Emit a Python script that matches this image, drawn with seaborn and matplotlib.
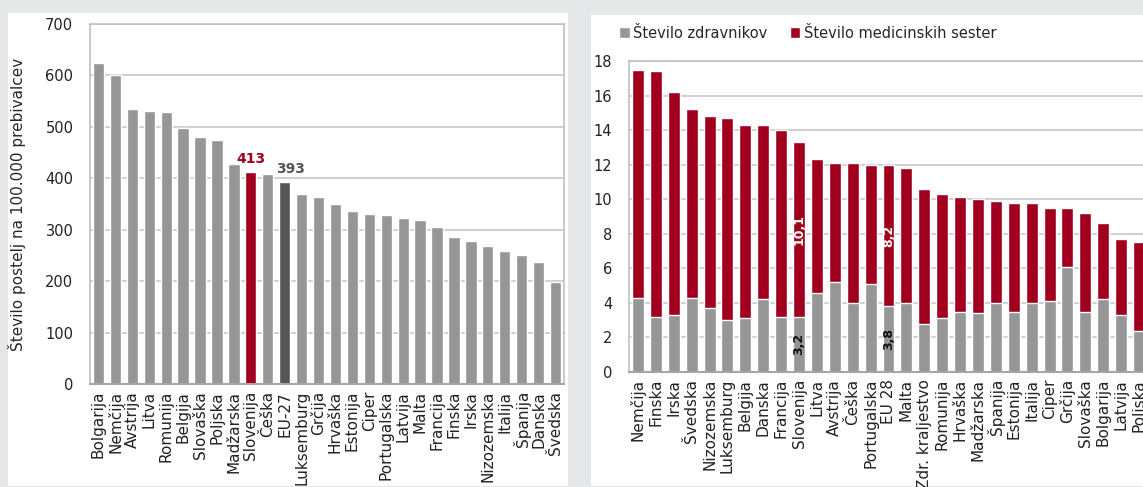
#!/usr/bin/env python3
"""
Bolnišnične postelje ter zdravniki in medicinske sestre v EU
"""

import numpy as np
import matplotlib
matplotlib.use('Agg')
import matplotlib.pyplot as plt
from matplotlib.patches import Rectangle, Patch
import seaborn as sns

# --- levi graf: postelje na 100.000 prebivalcev ---
beds_countries = ['Bolgarija', 'Nemčija', 'Avstrija', 'Litva', 'Romunija', 'Belgija',
                  'Slovaška', 'Poljska', 'Madžarska', 'Slovenija', 'Češka', 'EU-27',
                  'Luksemburg', 'Grčija', 'Hrvaška', 'Estonija', 'Ciper', 'Portugalska',
                  'Latvija', 'Malta', 'Francija', 'Finska', 'Irska', 'Nizozemska',
                  'Italija', 'Španija', 'Danska', 'Švedska']
beds_values = [624, 601, 534, 530, 528, 497, 481, 474, 427, 413, 408, 393,
               370, 363, 350, 337, 330, 329, 322, 319, 305, 285, 279, 269,
               259, 250, 237, 198]

# --- desni graf: zdravniki in medicinske sestre na 1000 prebivalcev ---
staff_countries = ['Nemčija', 'Finska', 'Irska', 'Švedska', 'Nizozemska', 'Luksemburg',
                   'Belgija', 'Danska', 'Francija', 'Slovenija', 'Litva', 'Avstrija',
                   'Češka', 'Portugalska', 'EU 28', 'Malta', 'Zdr. kraljestvo',
                   'Romunija', 'Hrvaška', 'Madžarska', 'Španija', 'Estonija', 'Italija',
                   'Ciper', 'Grčija', 'Slovaška', 'Bolgarija', 'Latvija', 'Poljska']
doctors = [4.3, 3.2, 3.3, 4.3, 3.7, 3.0, 3.1, 4.2, 3.2, 3.2, 4.6, 5.2, 4.0, 5.1,
           3.8, 4.0, 2.8, 3.1, 3.5, 3.4, 4.0, 3.5, 4.0, 4.1, 6.1, 3.5, 4.2, 3.3, 2.4]
nurses = [13.2, 14.2, 12.9, 10.9, 11.1, 11.7, 11.2, 10.1, 10.8, 10.1, 7.7, 6.9, 8.1,
          6.9, 8.2, 7.8, 7.8, 7.2, 6.6, 6.6, 5.9, 6.3, 5.8, 5.4, 3.4, 5.7, 4.4, 4.4, 5.1]

GREY = '#969696'
RED = '#a0001e'
DARK = '#555555'
BG = '#e6e7e8'
GRID = '#c8c8c8'
SPINE = '#c0c0c0'

sns.set_style('white')
plt.rcParams['font.family'] = ['DejaVu Sans']

W, H = 1143, 487
fig = plt.figure(figsize=(W / 100, H / 100), dpi=100, facecolor=BG)


def px_box(x0, y0, x1, y1):
    """pixel box (top-left origin) -> figure fraction rect"""
    return [x0 / W, 1 - y1 / H, (x1 - x0) / W, (y1 - y0) / H]


# white panels behind the charts
for x0, y0, x1, y1 in [(8, 13, 568, 486), (591, 15, 1160, 486)]:
    l, b, w, h = px_box(x0, y0, x1, y1)
    fig.patches.append(Rectangle((l, b), w, h, transform=fig.transFigure,
                                 facecolor='white', edgecolor='none', zorder=-10))


def style_axes(ax):
    ax.set_facecolor('white')
    for side in ['left', 'top', 'right']:
        ax.spines[side].set_color(SPINE)
        ax.spines[side].set_linewidth(1.2)
    ax.spines['bottom'].set_color('#a6a6a6')
    ax.spines['bottom'].set_linewidth(1.5)
    ax.yaxis.grid(True, color=GRID, linewidth=1.2)
    ax.set_axisbelow(True)
    ax.tick_params(axis='y', length=0, pad=12, labelsize=10.5, colors='#222222')
    ax.tick_params(axis='x', length=0, pad=5, labelsize=11, labelrotation=90,
                   colors='#222222')
    ax.set_xlabel('')


# ---- levi graf ----
ax1 = fig.add_axes(px_box(90, 24, 564, 384))
palette = {c: GREY for c in beds_countries}
palette['Slovenija'] = RED
palette['EU-27'] = DARK
sns.barplot(x=beds_countries, y=beds_values, hue=beds_countries, palette=palette,
            legend=False, width=0.67, saturation=1, ax=ax1)
ax1.set_ylim(0, 700)
ax1.set_yticks(np.arange(0, 701, 100))
ax1.set_xlim(-0.5, len(beds_countries) - 0.5)
style_axes(ax1)
ax1.set_ylabel('Število postelj na 100.000 prebivalcev', fontsize=11, labelpad=14)

i_si = beds_countries.index('Slovenija')
i_eu = beds_countries.index('EU-27')
ax1.annotate(f'{beds_values[i_si]}', xy=(i_si, beds_values[i_si]), xytext=(0, 4),
             textcoords='offset points', ha='center', va='bottom',
             fontsize=10, fontweight='bold', color=RED)
ax1.annotate(f'{beds_values[i_eu]}', xy=(i_eu, beds_values[i_eu]), xytext=(4, 4),
             textcoords='offset points', ha='center', va='bottom',
             fontsize=10, fontweight='bold', color=DARK)

# ---- desni graf ----
ax2 = fig.add_axes(px_box(629, 61, 1148, 372))
totals = [d + n for d, n in zip(doctors, nurses)]
sns.barplot(x=staff_countries, y=totals, color=RED, width=0.67, saturation=1, ax=ax2)
sns.barplot(x=staff_countries, y=doctors, color=GREY, width=0.67, saturation=1, ax=ax2)
ax2.set_ylim(0, 18)
ax2.set_yticks(np.arange(0, 19, 2))
ax2.set_xlim(-0.5, len(staff_countries) - 0.5)
style_axes(ax2)
ax2.set_ylabel('')

for name in ['Slovenija', 'EU 28']:
    i = staff_countries.index(name)
    d, n = doctors[i], nurses[i]
    ax2.text(i, d / 2, f'{d:.1f}'.replace('.', ','), rotation=90, ha='center',
             va='center', fontsize=9, fontweight='bold', color='#111111')
    ax2.text(i, d + n / 2, f'{n:.1f}'.replace('.', ','), rotation=90, ha='center',
             va='center', fontsize=9, fontweight='bold', color='white')

handles = [Patch(facecolor=GREY, label='Število zdravnikov'),
           Patch(facecolor=RED, label='Število medicinskih sester')]
fig.legend(handles=handles, loc='center left', bbox_to_anchor=(613 / W, 1 - 33 / H),
           ncol=2, frameon=False, fontsize=10.5, handlelength=0.75, handleheight=0.75,
           handletextpad=0.25, columnspacing=1.5, borderaxespad=0)

fig.savefig('out.png', dpi=100, facecolor=BG)
